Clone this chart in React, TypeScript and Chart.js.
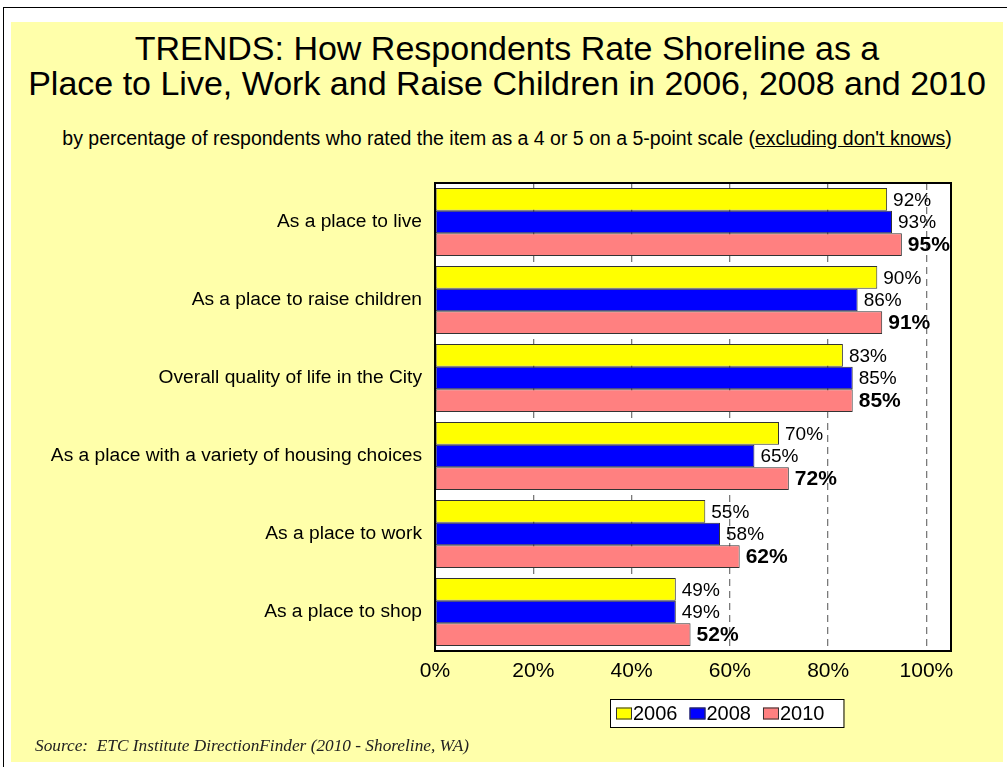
import React, { useEffect, useRef } from "react";
import { Chart, registerables } from "chart.js";

Chart.register(...registerables);

const categories = [
  "As a place to live",
  "As a place to raise children",
  "Overall quality of life in the City",
  "As a place with a variety of housing choices",
  "As a place to work",
  "As a place to shop",
];
const series2006 = [92, 90, 83, 70, 55, 49];
const series2008 = [93, 86, 85, 65, 58, 49];
const series2010 = [95, 91, 85, 72, 62, 52];
const seriesNames = ["2006", "2008", "2010"];
const seriesColors = ["#FFFF00", "#0000FF", "#FF8080"];
const xTickValues = [0, 20, 40, 60, 80, 100];

const SANS = '"Liberation Sans", Arial, sans-serif';
const SERIF = '"Liberation Serif", "Times New Roman", serif';

export default function App() {
  const canvasRef = useRef<HTMLCanvasElement>(null);

  useEffect(() => {
    const canvas = canvasRef.current;
    if (!canvas) return;

    const plotBg = {
      id: "plotBg",
      beforeDraw(chart: any) {
        const { ctx, chartArea: a } = chart;
        ctx.save();
        ctx.fillStyle = "#FFFFFF";
        ctx.fillRect(a.left, a.top, a.right - a.left, a.bottom - a.top);
        ctx.restore();
      },
    };

    const frame = {
      id: "frame",
      afterDatasetsDraw(chart: any) {
        const { ctx, chartArea: a } = chart;
        ctx.save();
        ctx.strokeStyle = "#000000";
        ctx.lineWidth = 2;
        ctx.strokeRect(a.left, a.top, a.right - a.left, a.bottom - a.top);
        ctx.restore();
      },
    };

    const valueLabels = {
      id: "valueLabels",
      afterDraw(chart: any) {
        const { ctx } = chart;
        ctx.save();
        chart.data.datasets.forEach((ds: any, i: number) => {
          const meta = chart.getDatasetMeta(i);
          meta.data.forEach((bar: any, j: number) => {
            const v = ds.data[j];
            ctx.font = i === 2 ? `bold 21px ${SANS}` : `19px ${SANS}`;
            ctx.fillStyle = "#000000";
            ctx.textAlign = "left";
            ctx.textBaseline = "middle";
            ctx.fillText(`${v}%`, bar.x + 6, bar.y + 1);
          });
        });
        ctx.restore();
      },
    };

    const legendBox = {
      id: "legendBox",
      afterDraw(chart: any) {
        const { ctx } = chart;
        ctx.save();
        ctx.font = `20px ${SANS}`;
        const sw = 16;
        const gapAfterSw = 1;
        const gapItems = 12;
        const widths = chart.data.datasets.map(
          (ds: any) => sw + gapAfterSw + ctx.measureText(ds.label).width
        );
        const inner =
          widths.reduce((s: number, w: number) => s + w, 0) +
          gapItems * (widths.length - 1);
        const boxW = inner + 25;
        const boxH = 28;
        const left = 610;
        const top = 699;
        ctx.fillStyle = "#FFFFFF";
        ctx.fillRect(left, top, boxW, boxH);
        ctx.strokeStyle = "#000000";
        ctx.lineWidth = 1;
        ctx.strokeRect(left + 0.5, top + 0.5, boxW, boxH);
        let x = left + 6;
        const cy = top + boxH / 2 + 0.5;
        chart.data.datasets.forEach((ds: any, i: number) => {
          ctx.fillStyle = ds.backgroundColor;
          ctx.fillRect(x, cy - 6, sw, 12);
          ctx.strokeStyle = "#333333";
          ctx.strokeRect(x + 0.5, cy - 5.5, sw - 1, 11);
          ctx.fillStyle = "#000000";
          ctx.textAlign = "left";
          ctx.textBaseline = "middle";
          ctx.fillText(ds.label, x + sw + gapAfterSw, cy + 1);
          x += widths[i] + gapItems;
        });
        ctx.restore();
      },
    };

    const chart = new Chart(canvas, {
      type: "bar",
      data: {
        labels: categories,
        datasets: [series2006, series2008, series2010].map((d, i) => ({
          label: seriesNames[i],
          data: d,
          backgroundColor: seriesColors[i],
          borderColor: "#333333",
          borderWidth: 1,
          borderSkipped: false,
          categoryPercentage: 0.87,
          barPercentage: 1.0,
        })),
      },
      options: {
        indexAxis: "y",
        responsive: false,
        animation: false,
        events: [],
        layout: { padding: { left: 0, right: 56, top: 183, bottom: 76 } },
        plugins: {
          legend: { display: false },
          tooltip: { enabled: false },
          title: { display: false },
        },
        scales: {
          x: {
            min: 0,
            max: 105,
            afterBuildTicks: (s: any) => {
              s.ticks = xTickValues.map((v) => ({ value: v }));
            },
            ticks: {
              callback: (v: any) => `${v}%`,
              font: { family: SANS, size: 21 },
              color: "#000000",
              padding: 8,
              maxRotation: 0,
            },
            grid: { color: "#7a7a7a", drawTicks: false, lineWidth: 1.3 },
            border: { display: false, dash: [7, 5] },
            afterFit: (s: any) => {
              s.height = 40;
            },
          },
          y: {
            ticks: {
              font: { family: SANS, size: 19.2 },
              color: "#000000",
              padding: 13,
            },
            grid: { display: false, drawTicks: false },
            border: { display: false },
            afterFit: (s: any) => {
              s.width = 435;
            },
          },
        },
      },
      plugins: [plotBg, frame, valueLabels, legendBox],
    } as any);

    return () => chart.destroy();
  }, []);

  return (
    <div
      style={{
        position: "absolute",
        left: 0,
        top: 0,
        width: 1007,
        height: 767,
        overflow: "hidden",
        background: "#FFFFFF",
      }}
    >
      <div
        style={{
          position: "absolute",
          left: 3,
          top: 7,
          width: 1010,
          height: 770,
          borderLeft: "1px solid #000",
          borderTop: "1px solid #000",
        }}
      />
      <div
        style={{
          position: "absolute",
          left: 11,
          top: 22,
          width: 992,
          height: 740,
          background: "#FFFFAA",
        }}
      />
      <div
        style={{
          position: "absolute",
          left: 11,
          top: 31,
          width: 992,
          textAlign: "center",
          fontFamily: SANS,
          fontSize: 34,
          lineHeight: "35px",
          color: "#000",
        }}
      >
        TRENDS: How Respondents Rate Shoreline as a
        <br />
        Place to Live, Work and Raise Children in 2006, 2008 and 2010
      </div>
      <div
        style={{
          position: "absolute",
          left: 11,
          top: 127,
          width: 992,
          textAlign: "center",
          fontFamily: SANS,
          fontSize: 19.5,
          lineHeight: "22px",
          color: "#000",
          whiteSpace: "nowrap",
        }}
      >
        by percentage of respondents who rated the item as a 4 or 5 on a 5-point scale (
        <span style={{ textDecoration: "underline" }}>excluding don't knows</span>)
      </div>
      <canvas
        ref={canvasRef}
        width={1007}
        height={767}
        style={{ position: "absolute", left: 0, top: 0 }}
      />
      <div
        style={{
          position: "absolute",
          left: 35,
          top: 736,
          fontFamily: SERIF,
          fontStyle: "italic",
          fontSize: 17.3,
          lineHeight: "20px",
          color: "#222",
          whiteSpace: "nowrap",
        }}
      >
        Source:&nbsp; ETC Institute DirectionFinder (2010 - Shoreline, WA)
      </div>
    </div>
  );
}
